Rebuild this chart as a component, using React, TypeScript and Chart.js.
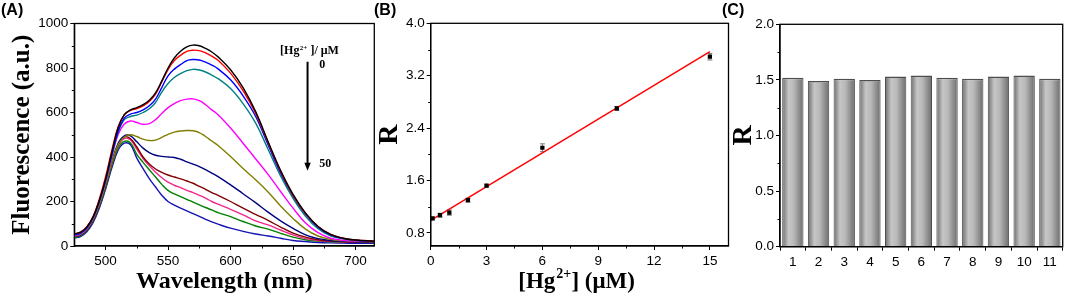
import React, { useEffect, useRef } from "react";
import { Chart, registerables } from "chart.js";

Chart.register(...registerables);

const W = 1065;
const H = 298;

// ---------------- Panel A data ----------------
const wavelengthNm = [475, 480, 485, 490, 495, 500, 505, 510, 515, 520, 525, 530, 535, 540, 545, 550, 555, 560, 565, 570, 575, 580, 585, 590, 600, 610, 620, 630, 640, 650, 660, 670, 680, 690, 700, 715];
const hg0 = [55, 62, 85, 130, 205, 300, 420, 530, 590, 612, 622, 635, 655, 688, 742, 800, 845, 875, 895, 903, 900, 888, 872, 850, 792, 712, 605, 470, 340, 232, 148, 88, 52, 35, 27, 22];
const hg1 = [55, 62, 87, 132, 210, 310, 430, 535, 590, 610, 618, 630, 650, 683, 737, 793, 833, 857, 875, 880, 878, 868, 853, 835, 777, 698, 597, 465, 335, 228, 146, 88, 52, 35, 27, 22];
const hg2 = [50, 58, 82, 127, 200, 295, 410, 515, 575, 593, 600, 612, 630, 660, 712, 765, 795, 815, 833, 838, 836, 826, 813, 796, 747, 675, 583, 455, 328, 225, 143, 85, 50, 34, 26, 21];
const hg3 = [50, 58, 82, 127, 200, 295, 405, 510, 568, 582, 588, 600, 617, 645, 692, 730, 757, 775, 788, 794, 791, 782, 768, 752, 708, 640, 553, 435, 315, 214, 134, 78, 46, 32, 25, 21];
const hg4 = [45, 55, 80, 125, 198, 290, 400, 500, 548, 562, 555, 547, 550, 568, 596, 622, 640, 653, 660, 661, 653, 635, 612, 590, 530, 462, 392, 322, 245, 170, 103, 60, 35, 26, 22, 20];
const hg5 = [45, 52, 75, 118, 185, 275, 375, 455, 490, 500, 492, 480, 474, 476, 488, 502, 512, 517, 519, 518, 510, 492, 472, 452, 402, 348, 298, 243, 180, 124, 76, 45, 30, 24, 21, 19];
const hg6 = [42, 50, 72, 115, 182, 272, 375, 460, 495, 495, 468, 440, 420, 408, 403, 400, 398, 390, 378, 368, 357, 343, 328, 312, 275, 235, 195, 152, 113, 79, 50, 33, 25, 21, 19, 18];
const hg7 = [42, 50, 72, 115, 182, 272, 375, 455, 490, 482, 445, 400, 368, 346, 331, 319, 310, 302, 292, 282, 268, 255, 240, 228, 200, 170, 142, 115, 85, 58, 40, 28, 22, 19, 18, 17];
const hg8 = [42, 50, 72, 115, 182, 270, 370, 450, 483, 476, 435, 393, 360, 332, 307, 287, 273, 262, 250, 240, 228, 215, 200, 188, 165, 140, 113, 95, 72, 50, 33, 25, 21, 19, 18, 17];
const hg9 = [38, 45, 68, 110, 175, 262, 360, 440, 470, 463, 412, 376, 343, 310, 277, 250, 234, 222, 210, 197, 185, 173, 162, 150, 132, 110, 90, 76, 57, 40, 28, 22, 19, 18, 17, 16];
const hg10 = [36, 42, 64, 105, 170, 255, 350, 430, 462, 455, 395, 348, 303, 265, 228, 200, 184, 170, 158, 146, 133, 120, 108, 98, 80, 66, 54, 45, 35, 25, 20, 16, 14, 13, 12, 12];
const wlMajorTicks = [500, 550, 600, 650, 700];
const wlMinorTicks = [525, 575, 625, 675];
const flMajorTicks = [0, 200, 400, 600, 800, 1000];
const flMinorTicks = [100, 300, 500, 700, 900];

// ---------------- Panel B data ----------------
const hgConc = [0.1, 0.5, 1, 2, 3, 6, 10, 15];
const ratioR = [1.02, 1.07, 1.11, 1.3, 1.52, 2.1, 2.7, 3.49];
const ratioErr = [0.02, 0.03, 0.04, 0.03, 0.02, 0.06, 0.03, 0.05];
const fitConc = [0, 15];
const fitR = [0.99, 3.566];
const concMajorTicks = [0, 3, 6, 9, 12, 15];
const concMinorTicks = [1.5, 4.5, 7.5, 10.5, 13.5];
const rMajorTicksB = [0.8, 1.6, 2.4, 3.2, 4.0];
const rMinorTicksB = [1.2, 2.0, 2.8, 3.6];

// ---------------- Panel C data ----------------
const sampleLabels = ["1", "2", "3", "4", "5", "6", "7", "8", "9", "10", "11"];
const sampleR = [1.52, 1.49, 1.51, 1.5, 1.53, 1.54, 1.52, 1.51, 1.53, 1.54, 1.51];
const rMajorTicksC = [0, 0.5, 1.0, 1.5, 2.0];
const rMinorTicksC = [0.25, 0.75, 1.25, 1.75];

// ---------------- styles ----------------
const SANS = "'Liberation Sans', Arial, sans-serif";
const SERIF = "'Liberation Serif', 'Times New Roman', serif";
const spectraColors = ["#000000", "#ff0000", "#0000ff", "#008080", "#ff00ff", "#808000", "#000080", "#800000", "#f0288c", "#008000", "#1414b4"];

const framePlugin = {
  id: "frame",
  afterDraw(chart: any, _args: any, opts: any) {
    const { ctx, chartArea: a, scales } = chart;
    ctx.save();
    ctx.strokeStyle = "#000";
    ctx.lineWidth = 1.3;
    ctx.strokeRect(a.left, a.top, a.right - a.left, a.bottom - a.top);
    ctx.lineWidth = 1;
    (opts.minorX || []).forEach((v: number) => {
      const px = Math.round(scales.x.getPixelForValue(v)) + 0.5;
      ctx.beginPath();
      ctx.moveTo(px, a.bottom);
      ctx.lineTo(px, a.bottom + 2.5);
      ctx.stroke();
    });
    (opts.minorY || []).forEach((v: number) => {
      const py = Math.round(scales.y.getPixelForValue(v)) + 0.5;
      ctx.beginPath();
      ctx.moveTo(a.left, py);
      ctx.lineTo(a.left - 2.5, py);
      ctx.stroke();
    });
    ctx.restore();
  },
};

// draws "[Hg" + superscript "2+" + rest, starting at x, baseline y
function drawHgText(ctx: any, x: number, y: number, size: number, rest: string, align: "left" | "center") {
  const big = `bold ${size}px ${SERIF}`;
  const small = `bold ${Math.round(size * 0.62)}px ${SERIF}`;
  ctx.textBaseline = "alphabetic";
  ctx.textAlign = "left";
  ctx.font = big;
  const w1 = ctx.measureText("[Hg").width;
  const w3 = ctx.measureText(rest).width;
  ctx.font = small;
  const w2 = ctx.measureText("2+").width + size * 0.05;
  let lx = align === "center" ? x - (w1 + w2 + w3) / 2 : x;
  ctx.font = big;
  ctx.fillText("[Hg", lx, y);
  lx += w1;
  ctx.font = small;
  ctx.fillText("2+", lx + size * 0.04, y - size * 0.4);
  lx += w2;
  ctx.font = big;
  ctx.fillText(rest, lx, y);
}

const hgNotePlugin = {
  id: "hgNote",
  afterDatasetsDraw(chart: any) {
    const { ctx, scales } = chart;
    const x = scales.x;
    const y = scales.y;
    ctx.save();
    ctx.fillStyle = "#000";
    ctx.strokeStyle = "#000";
    const ax = x.getPixelForValue(661.6);
    const top = y.getPixelForValue(828);
    const tip = y.getPixelForValue(338);
    ctx.lineWidth = 2;
    ctx.beginPath();
    ctx.moveTo(ax, top);
    ctx.lineTo(ax, tip - 6);
    ctx.stroke();
    ctx.beginPath();
    ctx.moveTo(ax - 3.2, tip - 8);
    ctx.lineTo(ax + 3.2, tip - 8);
    ctx.lineTo(ax, tip);
    ctx.closePath();
    ctx.fill();
    drawHgText(ctx, x.getPixelForValue(639.6), y.getPixelForValue(861), 12, " ]/ \u03bcM", "left");
    ctx.font = `bold 12px ${SERIF}`;
    ctx.fillText("0", x.getPixelForValue(671), y.getPixelForValue(799));
    ctx.fillText("50", x.getPixelForValue(671), y.getPixelForValue(354));
    ctx.restore();
  },
};

const hgTitlePlugin = {
  id: "hgTitle",
  afterDraw(chart: any) {
    const { ctx, chartArea: a } = chart;
    ctx.save();
    ctx.fillStyle = "#000";
    drawHgText(ctx, (a.left + a.right) / 2 - 3, 287.5, 23, "] (\u03bcM)", "center");
    ctx.restore();
  },
};

const errorBarPlugin = {
  id: "errBars",
  beforeDatasetsDraw(chart: any) {
    const { ctx, scales } = chart;
    ctx.save();
    ctx.strokeStyle = "#777";
    ctx.lineWidth = 1;
    hgConc.forEach((c, i) => {
      const px = scales.x.getPixelForValue(c);
      const y1 = scales.y.getPixelForValue(ratioR[i] - ratioErr[i]);
      const y2 = scales.y.getPixelForValue(ratioR[i] + ratioErr[i]);
      ctx.beginPath();
      ctx.moveTo(px, y1);
      ctx.lineTo(px, y2);
      ctx.moveTo(px - 2.5, y1);
      ctx.lineTo(px + 2.5, y1);
      ctx.moveTo(px - 2.5, y2);
      ctx.lineTo(px + 2.5, y2);
      ctx.stroke();
    });
    ctx.restore();
  },
};

const tickFont = (size: number) => ({ family: SANS, size, weight: "normal" as const });
const axisGrid = { display: true, drawOnChartArea: false, drawTicks: true, tickLength: 4, color: "#000", lineWidth: 1 };
const axisBorder = { display: true, color: "#000", width: 1.3 };

function setTicks(list: number[]) {
  return (s: any) => {
    s.ticks = list.map((v) => ({ value: v }));
  };
}

function configA(): any {
  const series = [hg0, hg1, hg2, hg3, hg4, hg5, hg6, hg7, hg8, hg9, hg10];
  return {
    type: "line",
    data: {
      datasets: series.map((s, i) => ({
        data: wavelengthNm.map((w, j) => ({ x: w, y: s[j] })),
        borderColor: spectraColors[i],
        borderWidth: 1.4,
        pointRadius: 0,
        tension: 0.4,
        fill: false,
      })),
    },
    options: {
      responsive: false,
      animation: false,
      devicePixelRatio: 1,
      layout: { padding: { left: 0, top: 23.5, right: W - 374.3, bottom: 0 } },
      plugins: {
        legend: { display: false },
        tooltip: { enabled: false },
        frame: { minorX: wlMinorTicks, minorY: flMinorTicks },
      },
      scales: {
        x: {
          type: "linear",
          min: 475,
          max: 715,
          afterBuildTicks: setTicks(wlMajorTicks),
          afterFit: (s: any) => {
            s.height = 52;
          },
          grid: axisGrid,
          border: axisBorder,
          ticks: { font: tickFont(13.5), color: "#000", padding: 3, autoSkip: false, maxRotation: 0, callback: (v: any) => String(v) },
          title: {
            display: true,
            text: "Wavelength (nm)",
            color: "#000",
            font: { family: SERIF, size: 24, weight: "bold" },
            padding: { top: 0, bottom: 2 },
          },
        },
        y: {
          type: "linear",
          min: 0,
          max: 1000,
          afterBuildTicks: setTicks(flMajorTicks),
          afterFit: (s: any) => {
            s.width = 74.3;
          },
          grid: axisGrid,
          border: axisBorder,
          ticks: { font: tickFont(13.5), color: "#000", padding: 2, autoSkip: false, callback: (v: any) => String(v) },
          title: {
            display: true,
            text: "Fluorescence (a.u.)",
            color: "#000",
            font: { family: SERIF, size: 25, weight: "bold", lineHeight: 1 },
            padding: { top: 10.5, bottom: 0 },
          },
        },
      },
    },
    plugins: [framePlugin, hgNotePlugin],
  };
}

function configB(): any {
  return {
    type: "scatter",
    data: {
      datasets: [
        {
          data: hgConc.map((c, i) => ({ x: c, y: ratioR[i] })),
          pointStyle: "rect",
          pointRadius: 3,
          backgroundColor: "#000",
          borderColor: "#000",
          borderWidth: 0,
        },
        {
          data: fitConc.map((c, i) => ({ x: c, y: fitR[i] })),
          showLine: true,
          pointRadius: 0,
          borderColor: "#ff0000",
          borderWidth: 1.5,
        },
      ],
    },
    options: {
      responsive: false,
      animation: false,
      devicePixelRatio: 1,
      layout: { padding: { left: 376, top: 23.3, right: W - 728.5, bottom: 0 } },
      plugins: {
        legend: { display: false },
        tooltip: { enabled: false },
        frame: { minorX: concMinorTicks, minorY: rMinorTicksB },
      },
      scales: {
        x: {
          type: "linear",
          min: 0,
          max: 16,
          afterBuildTicks: setTicks(concMajorTicks),
          afterFit: (s: any) => {
            s.height = 52;
          },
          grid: axisGrid,
          border: axisBorder,
          ticks: { font: tickFont(13.5), color: "#000", padding: 3, autoSkip: false, maxRotation: 0 },
        },
        y: {
          type: "linear",
          min: 0.6,
          max: 4.0,
          afterBuildTicks: setTicks(rMajorTicksB),
          afterFit: (s: any) => {
            s.width = 430.7 - 376;
          },
          grid: axisGrid,
          border: axisBorder,
          ticks: {
            font: tickFont(13.5),
            color: "#000",
            padding: 2,
            autoSkip: false,
            callback: (v: any) => Number(v).toFixed(1),
          },
          title: {
            display: true,
            text: "R",
            color: "#000",
            font: { family: SERIF, size: 28, weight: "bold", lineHeight: 1 },
            padding: { top: 0, bottom: 0 },
          },
        },
      },
    },
    plugins: [errorBarPlugin, framePlugin, hgTitlePlugin],
  };
}

function configC(): any {
  return {
    type: "bar",
    data: {
      labels: sampleLabels,
      datasets: [
        {
          data: sampleR,
          backgroundColor: (c: any) => {
            const chart = c.chart;
            const xs = chart.scales && chart.scales.x;
            if (!xs || c.dataIndex === undefined || !chart.chartArea) return "#aaaaaa";
            const cx = xs.getPixelForValue(c.dataIndex);
            const w = (xs.width / sampleR.length) * 0.83;
            const g = chart.ctx.createLinearGradient(cx - w / 2, 0, cx + w / 2, 0);
            g.addColorStop(0, "#6c6c6c");
            g.addColorStop(0.3, "#c6c6c6");
            g.addColorStop(0.55, "#b8b8b8");
            g.addColorStop(1, "#6c6c6c");
            return g;
          },
          borderColor: "#4e4e4e",
          borderWidth: { top: 1.5, left: 1, right: 1, bottom: 0 },
          barPercentage: 0.83,
          categoryPercentage: 1,
        },
      ],
    },
    options: {
      responsive: false,
      animation: false,
      devicePixelRatio: 1,
      layout: { padding: { left: 730, top: 24.3, right: W - 1062.7, bottom: 0 } },
      plugins: {
        legend: { display: false },
        tooltip: { enabled: false },
        frame: { minorX: [], minorY: rMinorTicksC },
      },
      scales: {
        x: {
          type: "category",
          afterFit: (s: any) => {
            s.height = H - 246.7;
          },
          grid: { ...axisGrid, offset: true },
          border: axisBorder,
          ticks: { font: tickFont(13.5), color: "#000", padding: 3, autoSkip: false, maxRotation: 0 },
        },
        y: {
          type: "linear",
          min: 0,
          max: 2,
          afterBuildTicks: setTicks(rMajorTicksC),
          afterFit: (s: any) => {
            s.width = 780 - 730;
          },
          grid: axisGrid,
          border: axisBorder,
          ticks: {
            font: tickFont(13.5),
            color: "#000",
            padding: 2,
            autoSkip: false,
            callback: (v: any) => Number(v).toFixed(1),
          },
          title: {
            display: true,
            text: "R",
            color: "#000",
            font: { family: SERIF, size: 28, weight: "bold", lineHeight: 1 },
            padding: { top: -0.5, bottom: 0 },
          },
        },
      },
    },
    plugins: [framePlugin],
  };
}

function ChartLayer({ make }: { make: () => any }) {
  const ref = useRef<HTMLCanvasElement>(null);
  useEffect(() => {
    const chart = new Chart(ref.current as HTMLCanvasElement, make());
    return () => chart.destroy();
  }, [make]);
  return (
    <canvas
      ref={ref}
      width={W}
      height={H}
      style={{ position: "absolute", left: 0, top: 0, width: W, height: H }}
    />
  );
}

const panelLabelStyle = (left: number): React.CSSProperties => ({
  position: "absolute",
  left,
  top: 1,
  font: `bold 16px ${SANS}`,
  color: "#000",
  lineHeight: "18px",
});

export default function App() {
  return (
    <div style={{ position: "fixed", left: 0, top: 0, width: W, height: H, background: "#fff", overflow: "hidden" }}>
      <ChartLayer make={configA} />
      <ChartLayer make={configB} />
      <ChartLayer make={configC} />
      <div style={panelLabelStyle(1)}>(A)</div>
      <div style={panelLabelStyle(374)}>(B)</div>
      <div style={panelLabelStyle(722)}>(C)</div>
    </div>
  );
}
